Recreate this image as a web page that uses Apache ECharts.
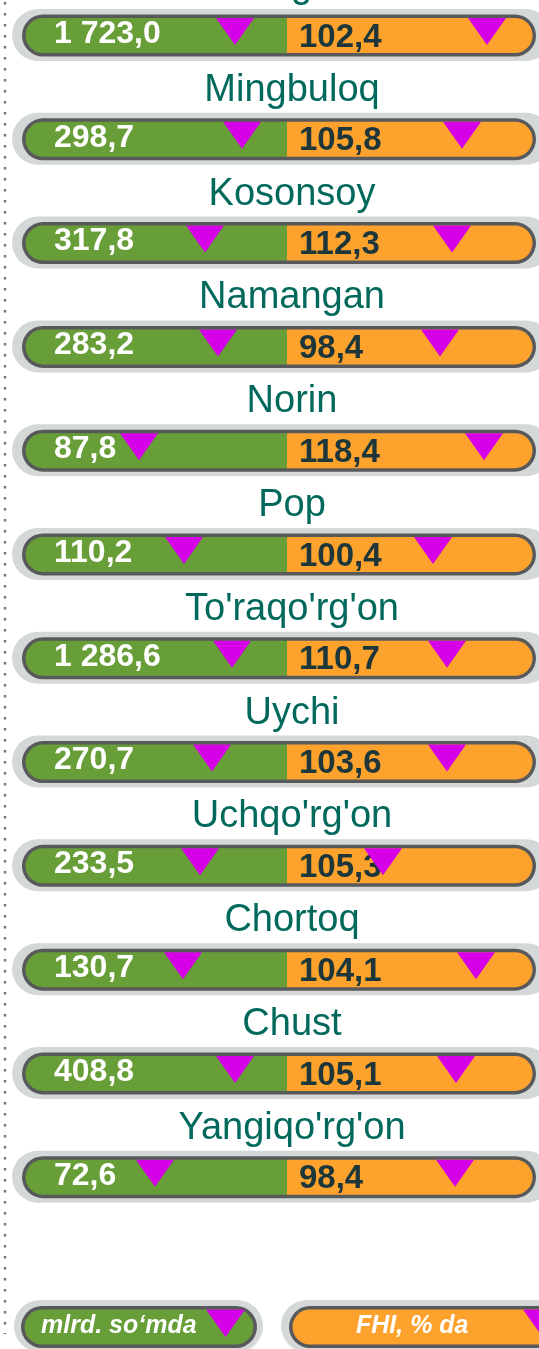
<!DOCTYPE html>
<html>
<head>
<meta charset="utf-8">
<style>
  html, body { margin: 0; padding: 0; background: #fff; }
  #chart { width: 539px; height: 1349px; }
</style>
<script src="https://cdn.jsdelivr.net/npm/echarts@6/dist/echarts.min.js"></script>
</head>
<body>
<div id="chart"></div>
<script>
// tumanlar
const districts = ["Namangan sh.", "Mingbuloq", "Kosonsoy", "Namangan", "Norin", "Pop",
  "To'raqo'rg'on", "Uychi", "Uchqo'rg'on", "Chortoq", "Chust", "Yangiqo'rg'on"];
// mlrd. so'mda
const volume = [1723.0, 298.7, 317.8, 283.2, 87.8, 110.2, 1286.6, 270.7, 233.5, 130.7, 408.8, 72.6];
// FHI, % da
const growth = [102.4, 105.8, 112.3, 98.4, 118.4, 100.4, 110.7, 103.6, 105.3, 104.1, 105.1, 98.4];
// triangle markers
const greenMarker = [235, 242, 205, 218, 139, 184, 232, 212, 200, 183, 235, 155];
const orangeMarker = [487, 462, 452, 440, 484, 433, 447, 447, 383, 476, 456, 455];
const legendNames = ["mlrd. so\u2018mda", "FHI, % da"];

const GREEN = "#679e37";
const ORANGE = "#fea22e";
const GREY = "#d4d8d9";
const DARK = "#58595b";
const MAGENTA = "#d500e8";
const TEAL = "#00695c";
const FONT = "'Liberation Sans', Arial, sans-serif";

function fmt(v) {
  const s = v.toFixed(1).split(".");
  return s[0].replace(/\B(?=(\d{3})+(?!\d))/g, " ") + "," + s[1];
}

function pill(x, y, w, h, fill) {
  return { type: "rect", shape: { x: x, y: y, width: w, height: h, r: h / 2 }, style: { fill: fill } };
}

function splitFill(split) {
  return {
    type: "linear", x: 0, y: 0, x2: 1, y2: 0,
    colorStops: [
      { offset: 0, color: GREEN }, { offset: split, color: GREEN },
      { offset: split, color: ORANGE }, { offset: 1, color: ORANGE }
    ]
  };
}

function renderRow(params, api) {
  const i = params.dataIndex;
  const cy = api.coord([0, i])[1];
  const split = (287 - 25.5) / 507;
  return {
    type: "group",
    children: [
      pill(12, cy - 26.5, 540, 52, GREY),
      pill(22, cy - 21, 514, 42, DARK),
      pill(25.5, cy - 17.5, 507, 35, splitFill(split)),
      {
        type: "text",
        style: { text: fmt(volume[i]), x: 54, y: cy - 1.5, fill: "#fff",
          font: "bold 32px " + FONT, textAlign: "left", textVerticalAlign: "middle" }
      },
      {
        type: "text",
        style: { text: fmt(growth[i]), x: 299, y: cy + 2, fill: "#1c363a",
          font: "bold 33px " + FONT, textAlign: "left", textVerticalAlign: "middle" }
      },
      {
        type: "text",
        style: { text: districts[i], x: 292, y: cy - 49, fill: TEAL,
          font: "38px " + FONT, textAlign: "center", textVerticalAlign: "middle" }
      }
    ]
  };
}

const chart = echarts.init(document.getElementById("chart"));
chart.setOption({
  animation: false,
  grid: { left: 0, right: 0, top: 0, bottom: 0 },
  xAxis: { type: "value", min: 0, max: 539, show: false },
  yAxis: { type: "value", min: -0.342, max: 12.655, inverse: true, show: false },
  series: [
    {
      type: "custom",
      clip: false,
      renderItem: renderRow,
      data: districts.map((d, i) => [0, i])
    },
    {
      type: "scatter",
      symbol: "path://M0,0L38,0L19,27Z",
      symbolSize: [38, 27],
      symbolOffset: [0, -4],
      itemStyle: { color: MAGENTA, opacity: 1 },
      z: 5,
      data: greenMarker.map((x, i) => [x, i])
    },
    {
      type: "scatter",
      symbol: "path://M0,0L38,0L19,27Z",
      symbolSize: [38, 27],
      symbolOffset: [0, -4],
      itemStyle: { color: MAGENTA, opacity: 1 },
      z: 5,
      data: orangeMarker.map((x, i) => [x, i])
    }
  ],
  graphic: [
    {
      type: "line",
      shape: { x1: 5, y1: 2, x2: 5, y2: 1334 },
      style: { stroke: "#777", lineWidth: 2.5, lineDash: [2.5, 8.5] }
    },
    // legend: green
    pill(14, 1300, 249, 52, GREY),
    pill(21, 1306, 236, 42, DARK),
    pill(24.5, 1309.5, 229, 35, GREEN),
    { type: "polygon", shape: { points: [[206, 1309.5], [245, 1309.5], [225.5, 1337]] }, style: { fill: MAGENTA } },
    {
      type: "text",
      style: { text: legendNames[0], x: 41, y: 1326, fill: "#fff",
        font: "italic bold 25px " + FONT, textAlign: "left", textVerticalAlign: "middle" }
    },
    // legend: orange
    pill(281, 1300, 300, 52, GREY),
    pill(289, 1306, 285, 42, DARK),
    pill(292.5, 1309.5, 278, 35, ORANGE),
    { type: "polygon", shape: { points: [[523, 1309.5], [562, 1309.5], [542.5, 1337]] }, style: { fill: MAGENTA } },
    {
      type: "text",
      style: { text: legendNames[1], x: 356, y: 1326, fill: "#fff",
        font: "italic bold 25px " + FONT, textAlign: "left", textVerticalAlign: "middle" }
    }
  ]
});
</script>
</body>
</html>
